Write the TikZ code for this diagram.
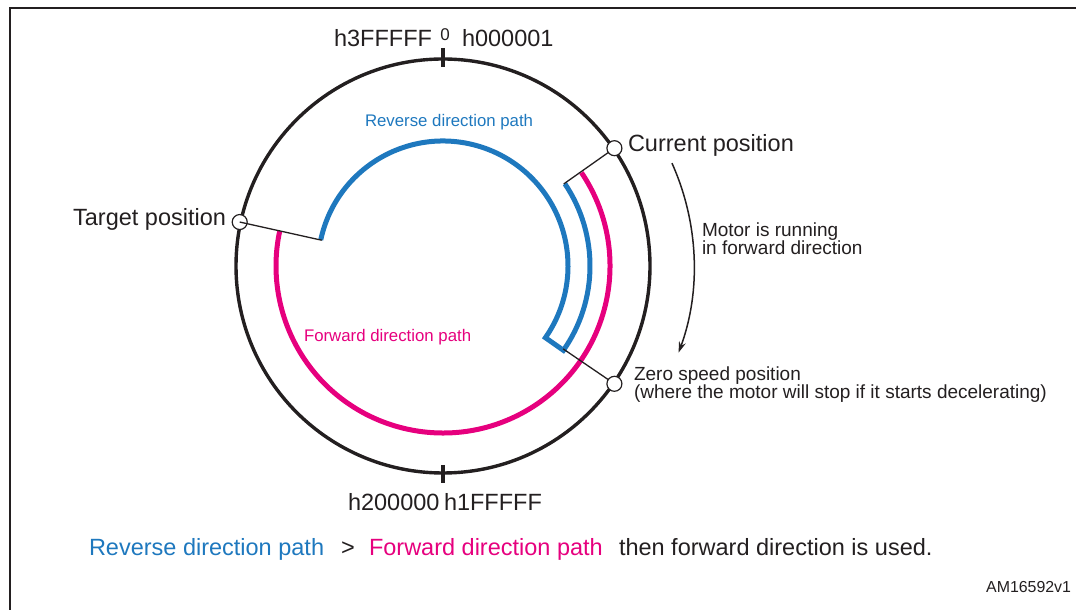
\documentclass[tikz,border=0pt]{standalone}
\usepackage{fontspec}
\setmainfont{Liberation Sans}
\usetikzlibrary{arrows.meta}
\definecolor{revblue}{RGB}{30,120,190}
\definecolor{fwdmag}{RGB}{230,0,126}
\definecolor{ink}{RGB}{35,31,32}

\begin{document}
\begin{tikzpicture}[x=1pt,y=1pt,
  every node/.style={inner sep=0pt, outer sep=0pt, text=ink},
  biglabel/.style={font=\fontsize{23.5}{26}\selectfont},
  midlabel/.style={font=\fontsize{19}{15}\selectfont},
  pathlabel/.style={font=\fontsize{16.8}{19}\selectfont},
  marker/.style={circle, draw=ink, fill=white, line width=1.2pt, minimum size=15pt},
  lead/.style={draw=ink, line width=1.3pt},
  ring/.style={draw=ink, line width=3.4pt},
  tick/.style={draw=ink, line width=3.2pt},
  revpath/.style={draw=revblue, line width=5pt, line join=miter},
  fwdpath/.style={draw=fwdmag, line width=5pt},
  motion/.style={draw=ink, line width=1.5pt, -{Stealth[length=11pt,width=7pt]}}]
\useasboundingbox (0,0) rectangle (1076,610);

% open frame
\draw[ink, line width=2.5pt] (10,0) -- (10,602) -- (1076,602);

\begin{scope}[shift={(443,344)}]
  % position ring and the 0 / half-turn ticks
  \draw[ring] (0,0) circle[radius=207];
  \coordinate (ttop1) at (0,218);
  \coordinate (ttop2) at (0,199);
  \coordinate (tbot1) at (0,-199);
  \coordinate (tbot2) at (0,-217);
  \draw[tick] (ttop1) -- (ttop2);
  \draw[tick] (tbot1) -- (tbot2);

  % forward path: current position clockwise down to the target
  \draw[fwdpath] (34:167) arc[start angle=34, end angle=-192, radius=167];

  % reverse path: run on to zero speed, then back over the top to the target
  \draw[revpath] (-35:147) arc[start angle=-35, end angle=34, radius=147];
  \draw[revpath] (168:125) arc[start angle=168, end angle=-35, radius=125]
                 -- (-35:149.5);

  % markers and leads
  \node[marker] (cur) at (34.5:208) {};
  \node[marker] (zero) at (-34.5:208) {};
  \node[marker] (tgt) at (167.8:208) {};
  \coordinate (curin) at (34.2:146);
  \coordinate (zeroin) at (-34.6:146);
  \coordinate (tgtin) at (168:124);
  \draw[lead] (curin) -- (cur);
  \draw[lead] (zeroin) -- (zero);
  \draw[lead] (tgtin) -- (tgt.center);

  % direction of motion
  \coordinate (mstart) at (24.2:251);
  \coordinate (mend) at (-20.2:251);
  \draw[motion] (mstart) arc[start angle=24.2, end angle=-20.2, radius=251];
\end{scope}

% tick labels
\node[biglabel, anchor=base east] (hlast) at (432,563) {h3FFFFF};
\node[font=\fontsize{17}{19}\selectfont, anchor=base] (hzero) at (445,569) {0};
\node[biglabel, anchor=base west] (hfirst) at (462,563) {h000001};
\node[biglabel, anchor=base west] (hhalf) at (348,99) {h200000};
\node[biglabel, anchor=base west] (hhalfm) at (444,99) {h1FFFFF};

% path labels
\node[pathlabel, anchor=base west, text=revblue] (revlbl) at (365,483) {Reverse direction path};
\node[pathlabel, anchor=base west, text=fwdmag] (fwdlbl) at (304,268) {Forward direction path};

% position labels
\node[biglabel, anchor=base west] (curlbl) at (628,458) {Current position};
\node[biglabel, anchor=base east] (tgtlbl) at (226,384) {Target position};
\node[midlabel, anchor=base west] (mot1) at (702,373) {Motor is running};
\node[midlabel, anchor=base west] (mot2) at (702,355) {in forward direction};
\node[midlabel, anchor=base west] (zero1) at (634,229) {Zero speed position};
\node[midlabel, anchor=base west] (zero2) at (634,211) {(where the motor will stop if it starts decelerating)};

% rule
\node[biglabel, anchor=base west, text=revblue] (rule1) at (89,54) {Reverse direction path};
\node[biglabel, anchor=base west] (rule2) at (341,54) {>};
\node[biglabel, anchor=base west, text=fwdmag] (rule3) at (369,54) {Forward direction path};
\node[biglabel, anchor=base west] (rule4) at (619,54) {then forward direction is used.};

\node[font=\fontsize{15.9}{18}\selectfont, anchor=base east] (figid) at (1071,17) {AM16592v1};
\end{tikzpicture}
\end{document}
